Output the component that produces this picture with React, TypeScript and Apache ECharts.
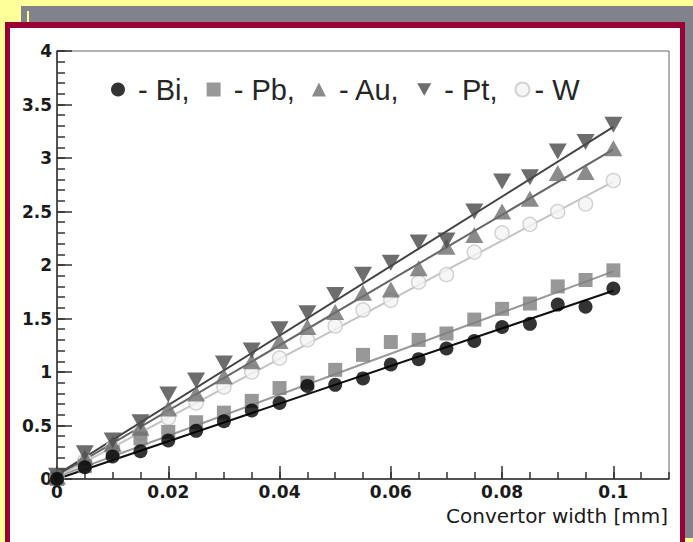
import React, { useEffect, useRef } from "react";
import * as echarts from "echarts";

const widthX = [0, 0.005, 0.01, 0.015, 0.02, 0.025, 0.03, 0.035, 0.04, 0.045, 0.05, 0.055, 0.06, 0.065, 0.07, 0.075, 0.08, 0.085, 0.09, 0.095, 0.1];
const bi = [0, 0.11, 0.21, 0.26, 0.36, 0.45, 0.54, 0.64, 0.71, 0.87, 0.88, 0.94, 1.07, 1.12, 1.22, 1.29, 1.42, 1.45, 1.63, 1.61, 1.78];
const pb = [0, 0.12, 0.25, 0.38, 0.44, 0.53, 0.62, 0.73, 0.85, 0.9, 1.02, 1.16, 1.28, 1.3, 1.36, 1.49, 1.59, 1.64, 1.8, 1.86, 1.95];
const au = [0.02, 0.2, 0.33, 0.48, 0.66, 0.8, 0.96, 1.1, 1.29, 1.42, 1.56, 1.74, 1.77, 1.97, 2.17, 2.28, 2.5, 2.62, 2.86, 2.87, 3.09];
const pt = [0.03, 0.24, 0.36, 0.53, 0.79, 0.92, 1.08, 1.2, 1.4, 1.55, 1.72, 1.91, 2.02, 2.21, 2.23, 2.5, 2.78, 2.82, 3.06, 3.15, 3.31];
const w = [0.02, 0.17, 0.29, 0.43, 0.57, 0.71, 0.86, 1.0, 1.13, 1.3, 1.43, 1.58, 1.67, 1.84, 1.91, 2.12, 2.3, 2.38, 2.5, 2.57, 2.79];

const fitX = [0, 0.1];
const biFit = [0, 1.76];
const pbFit = [0.02, 1.94];
const auFit = [0.03, 3.08];
const ptFit = [0.04, 3.29];
const wFit = [0.02, 2.78];

const names = ["Bi", "Pb", "Au", "Pt", "W"];
const xTitle = "Convertor width [mm]";

const pair = (ys: number[]) => widthX.map((x, i) => [x, ys[i]]);
const fitPair = (ys: number[]) => fitX.map((x, i) => [x, ys[i]]);

const DOWN = "path://M0,0 L10,0 L5,9 Z";

export default function App() {
  const ref = useRef<HTMLDivElement>(null);
  useEffect(() => {
    const chart = echarts.init(ref.current!, undefined, { renderer: "svg" });
    const tickFont = { fontFamily: "DejaVu Sans", fontWeight: "bold" as const, fontSize: 17, color: "#1a1a1a" };
    const fmt = (v: number) => String(parseFloat(v.toFixed(3)));
    const fitLine = (name: string, data: number[], color: string) => ({
      name: name + " fit",
      type: "line",
      data: fitPair(data),
      showSymbol: false,
      symbol: "none",
      lineStyle: { color, width: 2 },
      z: 2,
      silent: true,
    });
    chart.setOption({
      animation: false,
      backgroundColor: "#ffff99",
      graphic: [
        { type: "rect", shape: { x: 21, y: 6, width: 672, height: 532 }, style: { fill: "#82828c" }, z: -10 },
        { type: "rect", shape: { x: 27, y: 11, width: 2, height: 11 }, style: { fill: "#ffff99" }, z: -9 },
        { type: "rect", shape: { x: 5, y: 22, width: 680, height: 520 }, style: { fill: "#990033" }, z: -8 },
        { type: "rect", shape: { x: 10, y: 28, width: 670, height: 514 }, style: { fill: "#ffffff" }, z: -7 },
        {
          type: "text",
          x: 668,
          y: 506,
          z: 10,
          style: { text: xTitle, fontFamily: "DejaVu Sans", fontSize: 20, fill: "#1a1a1a", align: "right", verticalAlign: "top" },
        },
      ],
      legend: {
        data: names,
        left: 106,
        top: 70,
        itemWidth: 14,
        itemHeight: 14,
        itemGap: 17,
        textStyle: { fontFamily: "Liberation Sans", fontSize: 29, color: "#262626" },
        formatter: (n: string) => (n === "W" ? "- W" : " - " + n + ","),
      },
      grid: {
        left: 57,
        right: 24,
        top: 51,
        bottom: 63,
        containLabel: false,
        outerBoundsMode: "none",
        show: true,
        borderColor: "#666",
        borderWidth: 1,
        backgroundColor: "transparent",
      },
      xAxis: [
        {
          type: "value",
          min: 0,
          max: 0.11,
          interval: 0.02,
          position: "bottom",
          axisLine: { show: true, lineStyle: { color: "#333", width: 1.5 } },
          axisTick: { show: true, inside: true, length: 13, lineStyle: { color: "#333", width: 1.5 } },
          axisLabel: { ...tickFont, margin: 4, showMaxLabel: false, formatter: (v: number) => (v > 0.1001 ? "" : fmt(v)) },
          splitLine: { show: false },
        },
        {
          type: "value",
          min: 0,
          max: 0.11,
          interval: 0.005,
          position: "bottom",
          axisLine: { show: false },
          axisTick: { show: true, inside: true, length: 7, lineStyle: { color: "#333", width: 1.5 } },
          axisLabel: { show: false },
          splitLine: { show: false },
        },
      ],
      yAxis: [
        {
          type: "value",
          min: 0,
          max: 4,
          interval: 0.5,
          position: "left",
          axisLine: { show: true, lineStyle: { color: "#333", width: 1.5 } },
          axisTick: { show: true, inside: true, length: 15, lineStyle: { color: "#333", width: 1.5 } },
          axisLabel: { ...tickFont, margin: 5, formatter: (v: number) => fmt(v) },
          splitLine: { show: false },
        },
        {
          type: "value",
          min: 0,
          max: 4,
          interval: 0.1,
          position: "left",
          axisLine: { show: false },
          axisTick: { show: true, inside: true, length: 8, lineStyle: { color: "#333", width: 1.5 } },
          axisLabel: { show: false },
          splitLine: { show: false },
        },
      ],
      series: [
        fitLine("Bi", biFit, "#111"),
        fitLine("Pb", pbFit, "#9a9a9a"),
        fitLine("Au", auFit, "#666"),
        fitLine("Pt", ptFit, "#444"),
        fitLine("W", wFit, "#c4c4c4"),
        { name: "W", type: "scatter", data: pair(w), symbol: "circle", symbolSize: 14, itemStyle: { color: "#f4f4f4", borderColor: "#c8c8c8", borderWidth: 1.5 }, z: 3 },
        { name: "Pb", type: "scatter", data: pair(pb), symbol: "rect", symbolSize: 14, itemStyle: { color: "#7e7e7e" }, z: 3 },
        { name: "Au", type: "scatter", data: pair(au), symbol: "triangle", symbolSize: [18, 16], itemStyle: { color: "#6e6e6e" }, z: 3 },
        { name: "Pt", type: "scatter", data: pair(pt), symbol: DOWN, symbolSize: [18, 16], itemStyle: { color: "#484848" }, z: 3 },
        { name: "Bi", type: "scatter", data: pair(bi), symbol: "circle", symbolSize: 14, itemStyle: { color: "#000" }, z: 4 },
      ],
    });
    return () => chart.dispose();
  }, []);
  return <div ref={ref} style={{ position: "fixed", left: 0, top: 0, width: 693, height: 542 }} />;
}
